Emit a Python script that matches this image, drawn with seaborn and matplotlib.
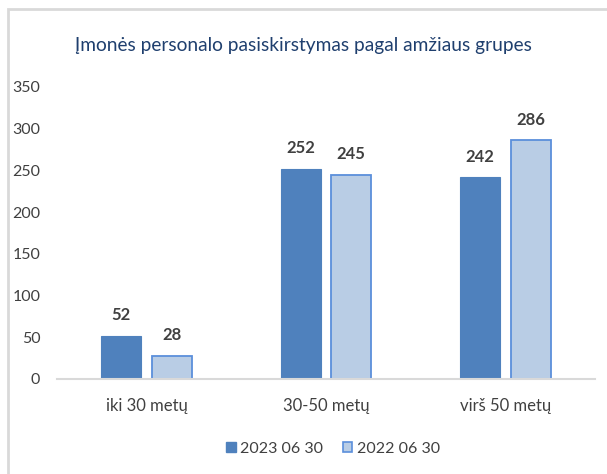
'''
Company staff by age group, 2023 vs 2022
'''

import pandas as pd
import seaborn as sns
import matplotlib.pyplot as plt
from matplotlib.patches import Rectangle

categories = ['iki 30 metų', '30-50 metų', 'virš 50 metų']
series_names = ['2023 06 30', '2022 06 30']
values_2023 = [52, 252, 242]
values_2022 = [28, 245, 286]
y_ticks = [0, 50, 100, 150, 200, 250, 300, 350]


def build_frame():
    rows = []
    for cat, v in zip(categories, values_2023):
        rows.append({'grupe': cat, 'data': series_names[0], 'n': v})
    for cat, v in zip(categories, values_2022):
        rows.append({'grupe': cat, 'data': series_names[1], 'n': v})
    return pd.DataFrame(rows)


def main():
    sns.set_style('white')
    plt.rcParams['font.family'] = ['Lato', 'DejaVu Sans']

    df = build_frame()
    fig = plt.figure(figsize=(6.07, 4.74), dpi=100)
    ax = fig.add_axes([57 / 607, 1 - 379 / 474, 538 / 607, 292 / 474])

    palette = {series_names[0]: '#4F81BD', series_names[1]: '#B9CDE5'}
    sns.barplot(data=df, x='grupe', y='n', hue='data', order=categories,
                hue_order=series_names, palette=palette, width=0.563,
                gap=0.21, saturation=1, ax=ax, legend=False)

    # edges: dark bars plain, light bars with brighter blue outline
    for i, patch in enumerate(ax.patches):
        if i < len(categories):
            patch.set_edgecolor('#4F81BD')
            patch.set_linewidth(0.8)
        else:
            patch.set_edgecolor('#5B8FDB')
            patch.set_linewidth(1.3)

    for cont in ax.containers:
        ax.bar_label(cont, padding=9, fontsize=12, fontweight='bold',
                     color='#404040')

    ax.set_ylim(0, 350)
    ax.set_yticks(y_ticks)
    ax.tick_params(axis='y', length=0, pad=12, labelsize=11.5,
                   labelcolor='#404040')
    ax.tick_params(axis='x', length=0, pad=14, labelsize=12,
                   labelcolor='#404040')
    ax.set_xlabel('')
    ax.set_ylabel('')
    sns.despine(ax=ax, left=True, top=True, right=True)
    ax.spines['bottom'].set_color('#D9D9D9')
    ax.spines['bottom'].set_linewidth(1.5)

    fig.text(0.5, 1 - 45 / 474, 'Įmonės personalo pasiskirstymas pagal amžiaus grupes',
             ha='center', va='center', fontsize=13.8, color='#1F3F6E')

    # legend
    handles = [Rectangle((0, 0), 1, 1, facecolor=palette[series_names[0]],
                         edgecolor='#4F81BD'),
               Rectangle((0, 0), 1, 1, facecolor=palette[series_names[1]],
                         edgecolor='#5B8FDB', linewidth=1.2)]
    fig.legend(handles, series_names, loc='center',
               bbox_to_anchor=(333 / 607, 1 - 449 / 474), ncol=2,
               frameon=False, fontsize=11.5, handlelength=0.6,
               handleheight=0.6, handletextpad=0.3, columnspacing=1.2,
               labelcolor='#404040')

    # light gray chart frame
    fig.add_artist(Rectangle((8 / 607, -0.05), 1.2, 1 - 9 / 474 + 0.05,
                             transform=fig.transFigure, fill=False,
                             edgecolor='#D9D9D9', linewidth=2))

    fig.savefig('out.png', dpi=100)


if __name__ == '__main__':
    main()
